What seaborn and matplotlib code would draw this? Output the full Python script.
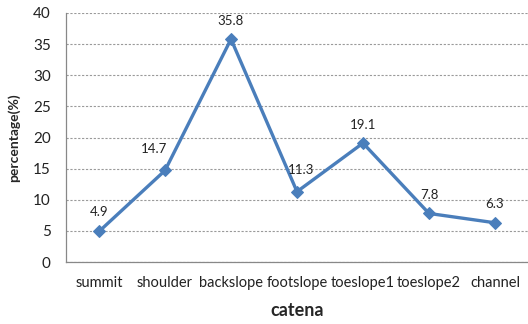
import matplotlib
matplotlib.use("Agg")
import matplotlib.pyplot as plt
import seaborn as sns
import pandas as pd
import numpy as np

categories = ["summit", "shoulder", "backslope", "footslope", "toeslope1", "toeslope2", "channel"]
values = [4.9, 14.7, 35.8, 11.3, 19.1, 7.8, 6.3]
yticks = [0, 5, 10, 15, 20, 25, 30, 35, 40]

sns.set_style("white")
plt.rcParams['font.family'] = ['Lato', 'DejaVu Sans']

df = pd.DataFrame({"catena": categories, "pct": values})

fig = plt.figure(figsize=(5.28, 3.24), dpi=100)
ax = fig.add_axes([66/528, 62/324, 462/528, 249/324])

sns.lineplot(data=df, x="catena", y="pct", ax=ax, color="#4a7ebb", linewidth=2.4,
             marker="D", markersize=6, markeredgecolor="#4a7ebb", sort=False)

offsets = [(0, 10), (-8, 11), (0, 9), (3, 11), (0, 9), (0, 9), (0, 9)]
for i, v in enumerate(values):
    ax.annotate(f"{v}", (i, v), xytext=offsets[i], textcoords="offset points",
                ha="center", va="bottom", fontsize=9.5, color="#222222")

ax.set_ylim(0, 40)
ax.set_xlim(-0.5, 6.44)
ax.set_yticks(yticks)
ax.yaxis.grid(True, linestyle=(0, (2, 1.5)), color="#9a9a9a", linewidth=0.8)
ax.set_axisbelow(True)

ax.set_xticks(range(len(categories)))
ax.set_xticklabels(categories, fontsize=10.5, color="#222222")
ax.set_xticks(np.arange(-0.5, len(categories), 1.0), minor=True)
ax.tick_params(axis="x", which="major", length=0, pad=10)
ax.tick_params(axis="x", which="minor", length=4, color="#888888", direction="out")
ax.tick_params(axis="y", length=4, color="#888888", labelsize=11, labelcolor="#222222", pad=7)

for s in ["top", "right"]:
    ax.spines[s].set_visible(False)
for s in ["left", "bottom"]:
    ax.spines[s].set_color("#888888")
    ax.spines[s].set_linewidth(0.9)

ax.set_xlabel("catena", fontsize=13, fontweight="bold", labelpad=9)
ax.set_ylabel("percentage(%)", fontsize=10, fontweight="bold", labelpad=9)

fig.savefig("out.png", dpi=100)
